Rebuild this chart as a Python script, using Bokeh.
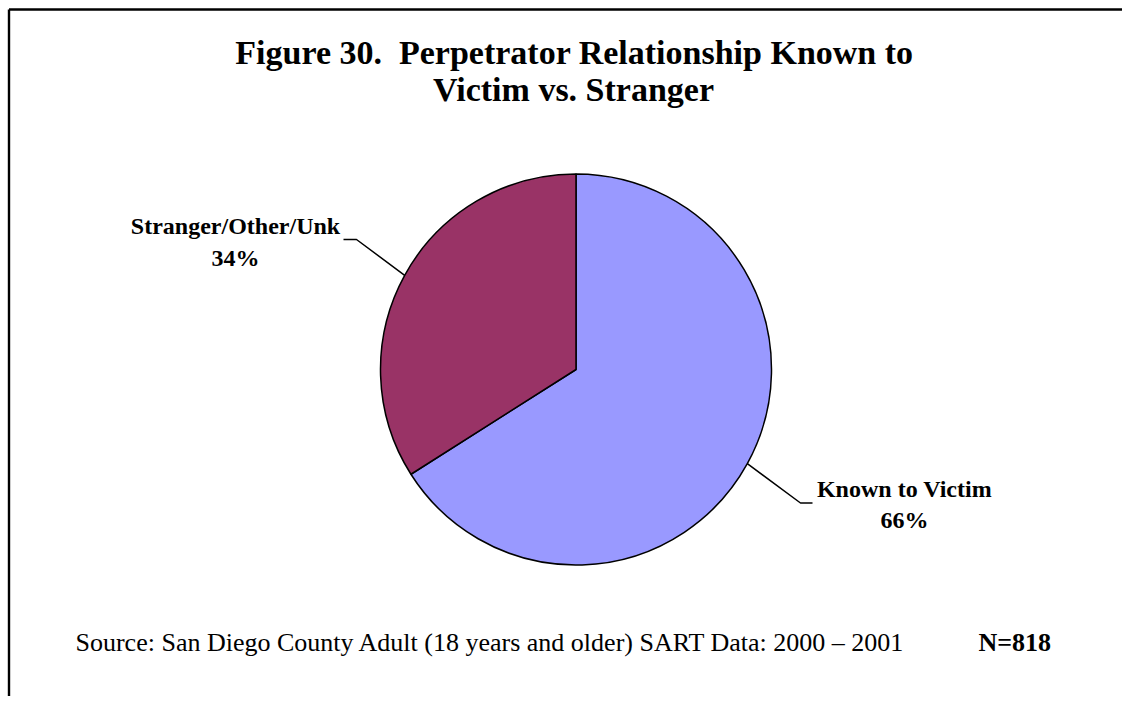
import numpy as np
from bokeh.plotting import figure
from bokeh.models import Range1d, ColumnDataSource
from bokeh.core.properties import value
from bokeh.embed import file_html
from bokeh.resources import INLINE

# ---- data ----
categories = ["Known to Victim", "Stranger/Other/Unk"]
percents = [66, 34]
colors = ["#9999FF", "#993366"]
title_lines = ["Figure 30.\u00a0 Perpetrator Relationship Known to", "Victim vs. Stranger"]
source_note = "Source: San Diego County Adult (18 years and older) SART Data: 2000 \u2013 2001"
n_note = "N=818"

W, H = 1122, 696
FONT = value("Liberation Serif")

def gx(x):  # picture x -> data x (geometry)
    return x

def gy(y):  # picture y -> data y (geometry)
    return H - y

def tx(x):  # picture x -> data x (text)
    return x

def ty(y):  # picture baseline y -> data y (text)
    return H + 8 - y

p = figure(width=W, height=H, x_range=Range1d(0, W), y_range=Range1d(0, H),
           output_backend="svg", toolbar_location=None, min_border=0,
           x_axis_location=None, y_axis_location=None)
p.grid.visible = False
p.outline_line_color = None
p.background_fill_color = "white"
p.border_fill_color = "white"

# frame border (left and top visible in the reference)
p.line([gx(8.5), gx(8.5)], [gy(9), gy(720)], line_color="black", line_width=2.4)
p.line([gx(8.5), gx(1200)], [gy(9), gy(9)], line_color="black", line_width=2.4)

# pie
cx, cy, r = gx(575.5), gy(369), 195.5
frac = np.array(percents, dtype=float) / sum(percents)
cum = np.cumsum(frac)
prev = np.concatenate([[0.0], cum[:-1]])
start = np.deg2rad(90 - 360 * cum)
end = np.deg2rad(90 - 360 * prev)
mid = (start + end) / 2
src = ColumnDataSource(dict(cat=categories, start=start, end=end, color=colors))
p.wedge(x=cx, y=cy, radius=r, start_angle="start", end_angle="end",
        fill_color="color", line_color="black", line_width=1.5, source=src)

# leader lines (from slice mid-angle on the rim to the label)
elbows = {
    "Stranger/Other/Unk": [(356, 239), (343, 239)],
    "Known to Victim": [(800, 502.5), (812, 502.5)],
}
label_pos = {
    "Stranger/Other/Unk": (235, 233.5, 265),
    "Known to Victim": (904, 496.5, 527.5),
}
for cat, pc, m in zip(categories, percents, mid):
    ex, ey = cx + r * np.cos(m), cy + r * np.sin(m)
    xs = [ex] + [gx(a) for a, b in elbows[cat]]
    ys = [ey] + [gy(b) for a, b in elbows[cat]]
    p.line(xs, ys, line_color="black", line_width=1.5)
    lx, b1, b2 = label_pos[cat]
    p.text(x=[tx(lx), tx(lx)], y=[ty(b1), ty(b2)], text=[cat, f"{pc}%"],
           text_font=FONT, text_font_style="bold", text_font_size="24px",
           text_align="center", text_baseline="alphabetic", text_color="black")

# title
p.text(x=[tx(574), tx(573)], y=[ty(59.5), ty(97)], text=title_lines,
       text_font=FONT, text_font_style="bold", text_font_size="34px",
       text_align="center", text_baseline="alphabetic", text_color="black")

# footer
p.text(x=[tx(75)], y=[ty(650)], text=[source_note], text_font=FONT,
       text_font_size="26px", text_align="left", text_baseline="alphabetic",
       text_color="black")
p.text(x=[tx(978)], y=[ty(650)], text=[n_note], text_font=FONT,
       text_font_style="bold", text_font_size="26px", text_align="left",
       text_baseline="alphabetic", text_color="black")

open("out.html", "w").write(file_html(p, INLINE))
